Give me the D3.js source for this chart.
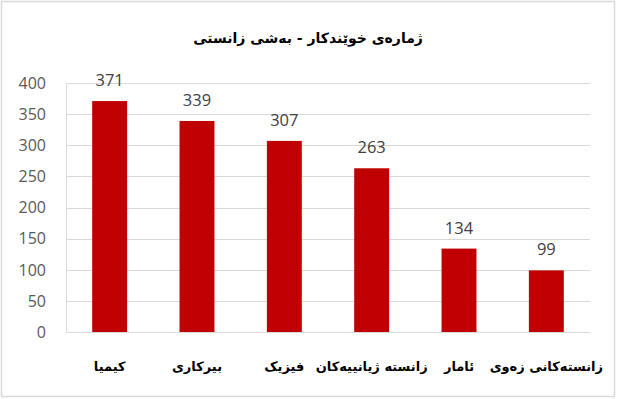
<!DOCTYPE html>
<html>
<head>
<meta charset="utf-8">
<script src="https://cdn.jsdelivr.net/npm/d3@7"></script>
<style>
  body { margin: 0; background: #fff; }
  .tick-label { font-family: 'Open Sans', sans-serif; font-size: 16px; fill: #595959; }
  .value { font-family: 'Open Sans', sans-serif; font-size: 16.5px; fill: #404040; }
  .cat { font-family: 'DejaVu Sans', sans-serif; font-size: 13px; font-weight: bold; fill: #000; }
  .title { font-family: 'DejaVu Sans', sans-serif; font-size: 14px; font-weight: bold; fill: #000; }
</style>
</head>
<body>
<svg width="617" height="399"></svg>
<script>
// chart data
var categories = ['کیمیا', 'بیرکاری', 'فیزیک', 'زانستە ژیانییەکان', 'ئامار', 'زانستەکانی زەوی'];
var values = [371, 339, 307, 263, 134, 99];
var yTicks = [0, 50, 100, 150, 200, 250, 300, 350, 400];
var title = 'ژمارەی خوێندکار - بەشی زانستی';

var svg = d3.select('svg');

// outer frame
svg.append('rect')
    .attr('x', 1.5).attr('y', 1.5)
    .attr('width', 613).attr('height', 395)
    .attr('fill', '#fff')
    .attr('stroke', '#d9d9d9')
    .attr('stroke-width', 1.5);

var plot = { l: 66, r: 590, t: 83, b: 332 };

var x = d3.scaleBand()
    .domain(categories)
    .range([plot.l, plot.r])
    .paddingInner(0.6)
    .paddingOuter(0.3);

var y = d3.scaleLinear().domain([0, 400]).range([plot.b, plot.t]);

// gridlines
svg.append('g').selectAll('line')
    .data(yTicks)
    .enter().append('line')
    .attr('x1', plot.l).attr('x2', plot.r)
    .attr('y1', d => Math.round(y(d)) + 0.5)
    .attr('y2', d => Math.round(y(d)) + 0.5)
    .attr('stroke', '#d9d9d9')
    .attr('stroke-width', 1);

// left axis line
svg.append('line')
    .attr('x1', plot.l + 0.5).attr('x2', plot.l + 0.5)
    .attr('y1', plot.t).attr('y2', plot.b)
    .attr('stroke', '#d9d9d9');

// y tick labels
svg.append('g').selectAll('text')
    .data(yTicks)
    .enter().append('text')
    .attr('class', 'tick-label')
    .attr('x', 46)
    .attr('y', d => y(d))
    .attr('dy', '0.36em')
    .attr('text-anchor', 'end')
    .text(d => d);

// bars
var bars = svg.append('g').selectAll('rect')
    .data(values)
    .enter().append('rect')
    .attr('x', (d, i) => x(categories[i]))
    .attr('y', d => y(d))
    .attr('width', x.bandwidth())
    .attr('height', d => plot.b - y(d))
    .attr('fill', '#c00000');

// value labels
svg.append('g').selectAll('text')
    .data(values)
    .enter().append('text')
    .attr('class', 'value')
    .attr('x', (d, i) => x(categories[i]) + x.bandwidth() / 2)
    .attr('y', d => y(d) - 15)
    .attr('text-anchor', 'middle')
    .text(d => d);

// category labels
svg.append('g').selectAll('text')
    .data(categories)
    .enter().append('text')
    .attr('class', 'cat')
    .attr('x', d => x(d) + x.bandwidth() / 2)
    .attr('y', 371)
    .attr('text-anchor', 'middle')
    .attr('direction', 'rtl')
    .text(d => d);

// title
svg.append('text')
    .attr('class', 'title')
    .attr('x', 308)
    .attr('y', 43)
    .attr('text-anchor', 'middle')
    .attr('direction', 'rtl')
    .text(title);
</script>
</body>
</html>
